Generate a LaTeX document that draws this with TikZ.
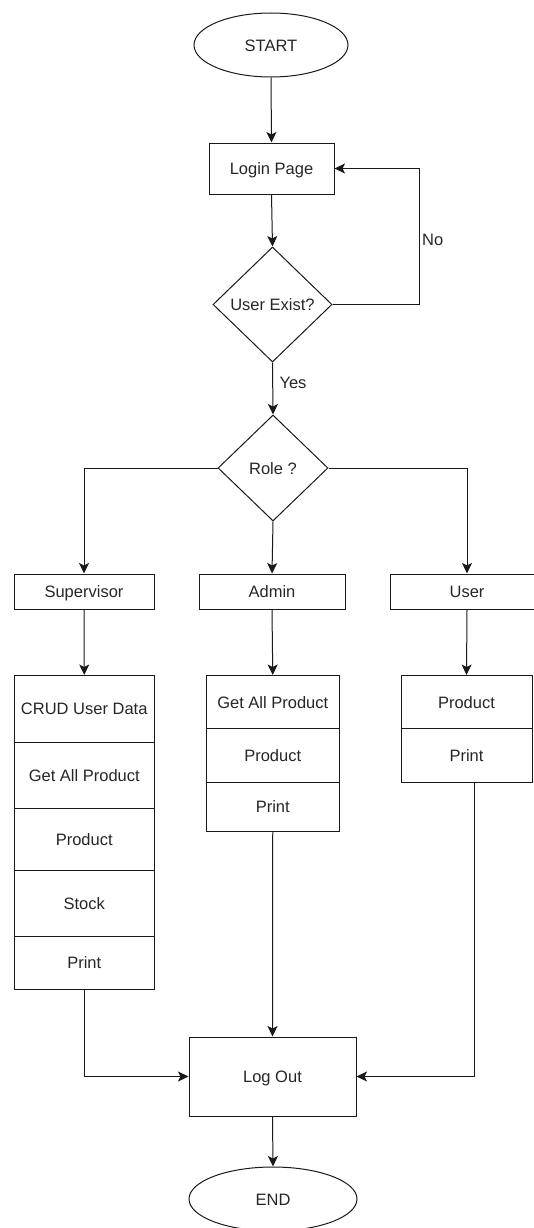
\documentclass[tikz,border=0pt]{standalone}
\usepackage{fontspec}
\setmainfont{Liberation Sans}
\usetikzlibrary{shapes.geometric,arrows.meta}
\begin{document}
\begin{tikzpicture}[x=1pt,y=-1pt,
  every node/.style={font=\fontsize{16.5}{19}\selectfont, text=black!85,
    text height=15.6pt, text depth=3.4pt},
  line/.style={draw=black!90, line width=1pt},
  flow/.style={line, -{Stealth[length=10.5pt,width=10pt,inset=2.5pt]}},
  terminal/.style={ellipse, line, inner sep=0pt},
  box/.style={rectangle, line, inner sep=0pt},
  decision/.style={diamond, line, inner sep=0pt},
  lbl/.style={inner sep=0pt}]
\useasboundingbox (0,0) rectangle (533,1228);

% start / login / check
\node[terminal, minimum width=154pt, minimum height=64pt] (start) at (271,45) {START};
\node[box, minimum width=125pt, minimum height=51pt] (login) at (271.5,168.5) {Login Page};
\node[decision, minimum width=119pt, minimum height=115pt] (exist) at (272.5,304.5) {User Exist?};
\node[decision, minimum width=110pt, minimum height=106pt] (role) at (273,468) {Role ?};

% roles
\node[box, minimum width=140pt, minimum height=35.5pt] (sup) at (84,591.75) {Supervisor};
\node[box, minimum width=146pt, minimum height=35.5pt] (adm) at (272,591.75) {Admin};
\node[box, minimum width=154pt, minimum height=35.5pt] (usr) at (467,591.75) {User};

% supervisor menu
\node[box, minimum width=139.5pt, minimum height=66.5pt] (s1) at (84.25,708.75) {CRUD User Data};
\node[box, minimum width=139.5pt, minimum height=66pt] (s2) at (84.25,775) {Get All Product};
\node[box, minimum width=139.5pt, minimum height=62pt] (s3) at (84.25,839) {Product};
\node[box, minimum width=139.5pt, minimum height=66pt] (s4) at (84.25,903) {Stock};
\node[box, minimum width=139.5pt, minimum height=53pt] (s5) at (84.25,962.5) {Print};

% admin menu
\node[box, minimum width=132.5pt, minimum height=53pt] (a1) at (272.75,702) {Get All Product};
\node[box, minimum width=132.5pt, minimum height=53.5pt] (a2) at (272.75,755.25) {Product};
\node[box, minimum width=132.5pt, minimum height=49pt] (a3) at (272.75,806.5) {Print};

% user menu
\node[box, minimum width=131pt, minimum height=53pt] (u1) at (466.5,702) {Product};
\node[box, minimum width=131pt, minimum height=53.5pt] (u2) at (466.5,755.25) {Print};

% logout / end
\node[box, minimum width=167pt, minimum height=79pt] (logout) at (272.5,1076.5) {Log Out};
\node[terminal, minimum width=168pt, minimum height=64pt] (end) at (273,1199) {END};

% connectors
\draw[flow] (start.south) -- (login.north);
\draw[flow] (login.south) -- (exist.north);
\coordinate (noturn) at (419,304.5);
\draw[flow] (exist.east) -- (noturn) |- (login.east);
\node[lbl, anchor=west] (nolbl) at (422,239) {No};
\draw[flow] (exist.south) -- (role.north);
\node[lbl] (yeslbl) at (293,382) {Yes};

\draw[flow] (role.west) -| (sup.north);
\draw[flow] (role.south) -- (adm.north);
\draw[flow] (role.east) -| (usr.north);

\draw[flow] (sup.south) -- (s1.north);
\draw[flow] (adm.south) -- (a1.north);
\draw[flow] (usr.south) -- (u1.north);

\draw[flow] (s5.south) |- (logout.west);
\draw[flow] (a3.south) -- (logout.north);
\coordinate (uexit) at (474,782);
\draw[flow] (uexit) |- (logout.east);
\draw[flow] (logout.south) -- (end.north);
\end{tikzpicture}
\end{document}
